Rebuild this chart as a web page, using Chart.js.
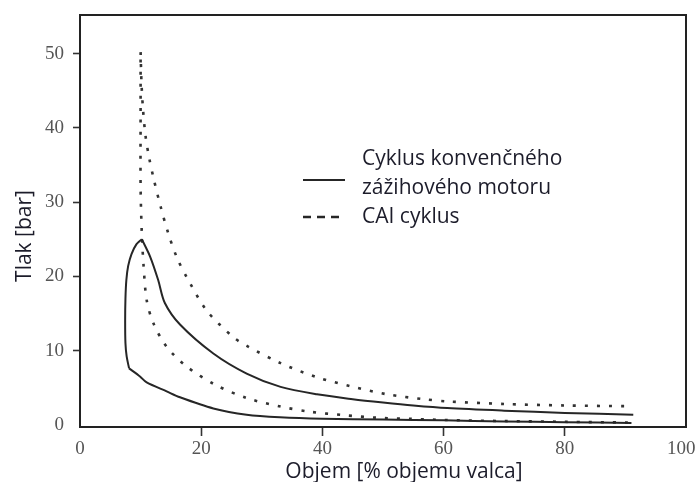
<!DOCTYPE html>
<html>
<head>
<meta charset="utf-8">
<script src="https://cdn.jsdelivr.net/npm/chart.js@4.4.1/dist/chart.umd.min.js"></script>
<style>
  html, body { margin: 0; padding: 0; background: #fff; }
  #wrap { width: 696px; height: 482px; }
</style>
</head>
<body>
<div id="wrap"><canvas id="pv" width="696" height="482"></canvas></div>
<script>
// body: [objem %, tlak bar] odcitane z obrazka
// konvencny zazihovy motor - kompresia (od DU po HU)
var siKompresia = [[91,0.25],[80,0.35],[70,0.45],[60,0.6],[50,0.7],[40,0.8],[33,1.0],[27.5,1.35],[22,2.2],[16.5,3.7],[14.3,4.5],[11,5.7],[9.9,6.5],[8.1,7.6]];
// horenie
var siHorenie = [[8.1,7.6],[7.7,9.2],[7.5,11],[7.45,14],[7.5,17],[7.65,19.5],[7.95,21.4],[8.5,23],[9.3,24.3],[10.2,25.0]];
// expanzia
var siExpanzia = [[10.2,25.0],[11.6,22.6],[12.9,19.5],[14.0,16.4],[16.5,13.5],[22,9.6],[27.5,6.9],[33.1,5.1],[39.1,4.1],[45,3.45],[50,3.0],[55,2.6],[60.6,2.25],[70,1.9],[80,1.6],[91.3,1.35]];
// CAI cyklus - kompresia + izochoricke horenie
var caiKompresia = [[90.4,0.3],[80,0.4],[70,0.5],[60,0.65],[54.5,0.8],[49,0.95],[43.5,1.3],[38,1.75],[33.1,2.45],[27.5,3.6],[22.3,5.4],[17.6,7.85],[14.3,10.5],[12.1,13.7],[11,16.8],[10.5,21.3],[10.2,25.8],[10.0,32],[10.0,42],[10.0,50.2]];
// CAI expanzia
var caiExpanzia = [[10.0,50.2],[10.15,46],[10.4,42.5],[10.8,39],[11.4,36],[12.2,33],[13.3,29.4],[14.6,25.7],[16,22.5],[17.6,19.9],[20.9,15.4],[25.3,11.8],[27.6,10.6],[33.1,8.3],[39.1,6.4],[44.6,5.2],[50.7,4.1],[56.7,3.45],[60.6,3.15],[70,2.8],[80,2.6],[90.4,2.5]];

var xTicks = [0, 20, 40, 60, 80, 100];
var yTicks = [0, 10, 20, 30, 40, 50];
var legendaTexty = [["Cyklus konvenčného", "zážihového motoru"], ["CAI cyklus"]];
var nazovX = "Objem [% objemu valca]";
var nazovY = "Tlak [bar]";

var farbaCiary = "#262626";
var pismoTextu = "'Open Sans', Lato, sans-serif";

function body(arr){
    return arr.map(function(p){ return {x: p[0], y: p[1]}; });
}

function plna(arr){
    return { data: body(arr), borderColor: farbaCiary, borderWidth: 2, tension: 0.3,
             pointRadius: 0, fill: false, showLine: true };
}
function bodkovana(arr){
    return { data: body(arr), borderColor: "#333", borderWidth: 2.6, borderDash: [3, 9],
             borderCapStyle: "butt", tension: 0.3, pointRadius: 0, fill: false, showLine: true };
}

// ramcek, legenda a nazvy osi
var doplnky = {
    id: "doplnky",
    afterDraw: function(chart){
        var ctx = chart.ctx, a = chart.chartArea;
        ctx.save();
        ctx.strokeStyle = "#222";
        ctx.lineWidth = 2;
        ctx.strokeRect(a.left, a.top, a.right - a.left, a.bottom - a.top);

        // legenda
        ctx.lineWidth = 2;
        ctx.strokeStyle = farbaCiary;
        ctx.beginPath(); ctx.moveTo(303, 180); ctx.lineTo(345, 180); ctx.stroke();
        ctx.setLineDash([8, 6]);
        ctx.lineWidth = 2.5;
        ctx.beginPath(); ctx.moveTo(303, 217); ctx.lineTo(345, 217); ctx.stroke();
        ctx.setLineDash([]);

        ctx.fillStyle = "#1c1c2a";
        ctx.font = "21px " + pismoTextu;
        ctx.textAlign = "left";
        ctx.textBaseline = "alphabetic";
        ctx.fillText(legendaTexty[0][0], 362, 165);
        ctx.fillText(legendaTexty[0][1], 362, 194);
        ctx.fillText(legendaTexty[1][0], 362, 223);

        // nazvy osi
        ctx.textAlign = "center";
        ctx.fillText(nazovX, 404, 478);
        ctx.translate(31, 236);
        ctx.rotate(-Math.PI / 2);
        ctx.fillText(nazovY, 0, 0);
        ctx.restore();
    }
};

var tickFont = { family: "'Liberation Serif', 'DejaVu Serif', serif", size: 19 };

new Chart(document.getElementById("pv"), {
    type: "scatter",
    data: {
        datasets: [
            plna(siKompresia), plna(siHorenie), plna(siExpanzia),
            bodkovana(caiKompresia), bodkovana(caiExpanzia)
        ]
    },
    options: {
        responsive: false,
        devicePixelRatio: 1,
        animation: false,
        layout: { padding: { left: 0, right: 10, top: 15, bottom: 0 } },
        plugins: { legend: { display: false }, tooltip: { enabled: false } },
        scales: {
            x: {
                type: "linear", min: 0, max: 100,
                afterBuildTicks: function(s){ s.ticks = xTicks.map(function(v){ return {value: v}; }); },
                afterFit: function(s){ s.height = 55; s.paddingLeft = 0; s.paddingRight = 0; },
                border: { display: false },
                grid: {
                    drawOnChartArea: false, drawTicks: true, tickLength: 9, tickWidth: 1.6,
                    tickColor: function(c){ return (c.tick && (c.tick.value === 0 || c.tick.value === 100)) ? "rgba(0,0,0,0)" : "#333"; }
                },
                ticks: {
                    color: "#555", font: tickFont, padding: 2, maxRotation: 0,
                    // posledny popis je pri okraji, trochu ho posunieme dolava
                    callback: function(v){ return v === 100 ? "100\u2002" : v; }
                }
            },
            y: {
                type: "linear", min: -0.3, max: 55.2,
                afterBuildTicks: function(s){ s.ticks = yTicks.map(function(v){ return {value: v}; }); },
                afterFit: function(s){ s.width = 80; s.paddingTop = 0; s.paddingBottom = 0; },
                border: { display: false },
                grid: {
                    drawOnChartArea: false, drawTicks: true, tickLength: 7, tickWidth: 1.6,
                    tickColor: function(c){ return (c.tick && c.tick.value === 0) ? "rgba(0,0,0,0)" : "#333"; }
                },
                ticks: { color: "#555", font: tickFont, padding: 9 }
            }
        }
    },
    plugins: [doplnky]
});
</script>
</body>
</html>
